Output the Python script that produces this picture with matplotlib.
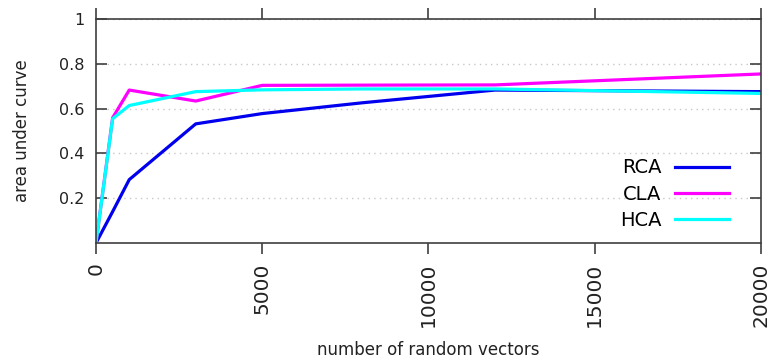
import matplotlib
matplotlib.use("Agg")
import matplotlib.pyplot as plt

# число случайных векторов и площадь под кривой
n_vectors = [0, 500, 1000, 3000, 5000, 8000, 12000, 20000]
rca = [0.0, 0.14, 0.283, 0.532, 0.578, 0.626, 0.683, 0.676]
cla = [0.0, 0.559, 0.683, 0.634, 0.704, 0.705, 0.706, 0.755]
hca = [0.0, 0.555, 0.614, 0.676, 0.684, 0.688, 0.688, 0.668]

series = [("RCA", rca, "#0000ee"), ("CLA", cla, "#ff00ff"), ("HCA", hca, "#00ffff")]
y_ticks = [0.2, 0.4, 0.6, 0.8, 1.0]
y_labels = ["0.2", "0.4", "0.6", "0.8", "1"]
x_ticks = [0, 5000, 10000, 15000, 20000]

plt.rcParams['font.family'] = ['DejaVu Sans']
fig = plt.figure(figsize=(7.71, 3.60), dpi=100)
ax = fig.add_axes([0.1245, 0.325, 0.8625, 0.622])

for name, vals, col in series:
    ax.plot(n_vectors, vals, color=col, lw=2.3, label=name)

ax.set_xlim(0, 20000)
ax.set_ylim(0, 1)
ax.set_yticks(y_ticks)
ax.set_yticklabels(y_labels)
ax.set_xticks(x_ticks)
ax.set_xticklabels([str(x) for x in x_ticks], rotation=90)
ax.grid(axis="y", color="#c8c8c8", linestyle=(0, (1, 3)), lw=1)
ax.set_axisbelow(True)

edge = "#404040"
for s in ax.spines.values():
    s.set_color(edge)
    s.set_linewidth(1.2)
ax.tick_params(axis="x", direction="out", top=True, length=8, width=1.2, color=edge,
               labelsize=14.5, labelcolor="#222222", pad=6)
ax.tick_params(axis="y", direction="in", right=True, length=8, width=1.2, color=edge,
               labelsize=11.5, labelcolor="#222222", pad=8.5)

ax.set_xlabel("number of random vectors", fontsize=12, color="#222222", labelpad=10)
ax.set_ylabel("area under curve", fontsize=12, color="#222222", labelpad=20)

ax.legend(loc="lower right", frameon=False, markerfirst=False, fontsize=14,
          handlelength=2.8, handletextpad=0.7, labelspacing=0.38, borderpad=0,
          bbox_to_anchor=(0.967, 0.014))

fig.savefig("out.png", dpi=100)
